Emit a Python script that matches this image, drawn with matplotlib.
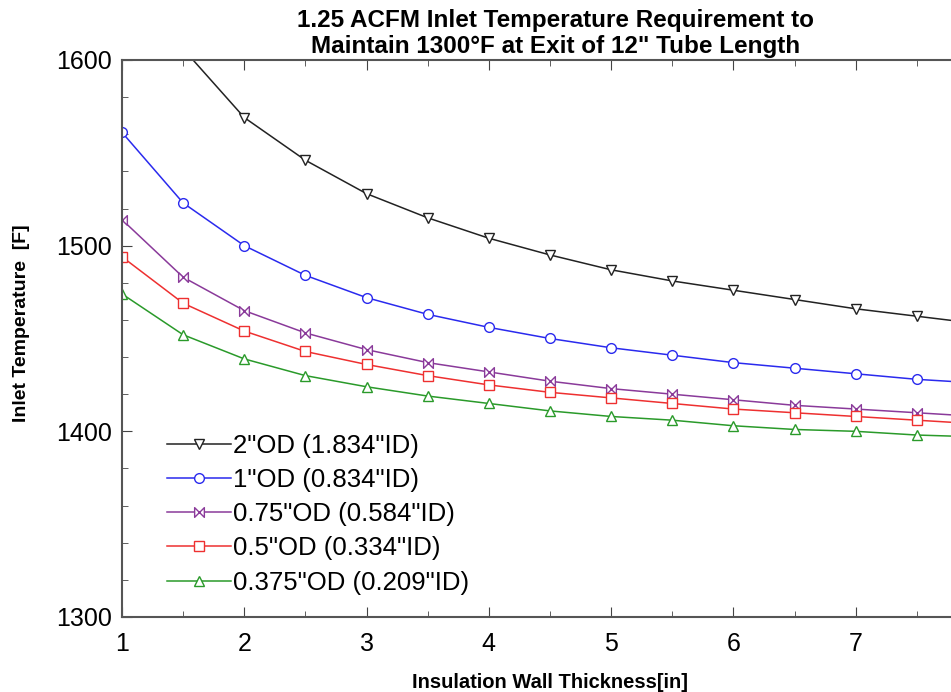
import numpy as np
import matplotlib
matplotlib.use('Agg')
import matplotlib.pyplot as plt
from matplotlib.path import Path
from matplotlib.ticker import MultipleLocator

plt.rcParams['font.family'] = ['Liberation Sans', 'DejaVu Sans']

thickness = [1, 1.5, 2, 2.5, 3, 3.5, 4, 4.5, 5, 5.5, 6, 6.5, 7, 7.5, 8]

od_2in = [1660, 1606, 1569, 1546, 1528, 1515, 1504, 1495, 1487, 1481, 1476, 1471, 1466, 1462, 1458]
od_1in = [1561, 1523, 1500, 1484, 1472, 1463, 1456, 1450, 1445, 1441, 1437, 1434, 1431, 1428, 1426]
od_075in = [1514, 1483, 1465, 1453, 1444, 1437, 1432, 1427, 1423, 1420, 1417, 1414, 1412, 1410, 1408]
od_05in = [1494, 1469, 1454, 1443, 1436, 1430, 1425, 1421, 1418, 1415, 1412, 1410, 1408, 1406, 1404]
od_0375in = [1474, 1452, 1439, 1430, 1424, 1419, 1415, 1411, 1408, 1406, 1403, 1401, 1400, 1398, 1397]

labels = ['2"OD (1.834"ID)', '1"OD (0.834"ID)', '0.75"OD (0.584"ID)',
          '0.5"OD (0.334"ID)', '0.375"OD (0.209"ID)']
xtick_vals = [1, 2, 3, 4, 5, 6, 7, 8]
xtick_text = ['1', '2', '3', '4', '5', '6', '7', '']   # 8 falls off the right edge

# bowtie marker for the 0.75" series
bowtie = Path([(-1, 1), (1, -1), (1, 1), (-1, -1), (-1, 1)],
              [Path.MOVETO, Path.LINETO, Path.LINETO, Path.LINETO, Path.CLOSEPOLY])

series = [
    (od_2in, '#222222', 'v', 7),
    (od_1in, '#2a2aee', 'o', 7),
    (od_075in, '#8a3a9a', bowtie, 7),
    (od_05in, '#ee3030', 's', 7),
    (od_0375in, '#2a9a2a', '^', 7),
]

fig = plt.figure(figsize=(9.51, 6.92), dpi=100)
ax = fig.add_axes([0.1283, 0.1084, 0.900, 0.8049])

for (vals, col, mk, ms), lab in zip(series, labels):
    ax.plot(thickness, vals, '-', color=col, lw=1.1, marker=mk, ms=ms,
            mfc='white', mec=col, mew=1.0, label=lab)

ax.set_xlim(1, 8)
ax.set_ylim(1300, 1600)
ax.set_xticks(xtick_vals, xtick_text)
ax.xaxis.set_minor_locator(MultipleLocator(0.5))
ax.yaxis.set_major_locator(MultipleLocator(100))
ax.yaxis.set_minor_locator(MultipleLocator(20))
ax.tick_params(which='both', direction='in', top=True, right=True, color='#444444')
ax.tick_params(which='major', length=7, labelsize=18)
ax.tick_params(axis='x', which='major', pad=11)
ax.tick_params(axis='y', which='major', pad=7)
ax.tick_params(which='minor', length=4)
for s in ax.spines.values():
    s.set_color('#555555')
    s.set_linewidth(1.5)

ax.set_xlabel('Insulation Wall Thickness[in]', fontsize=14.5, fontweight='bold', labelpad=12)
ax.set_ylabel('Inlet Temperature  [F]', fontsize=14, fontweight='bold')
ax.yaxis.set_label_coords(-0.108, 0.528)
fig.text(0.584, 0.952, '1.25 ACFM Inlet Temperature Requirement to\nMaintain 1300°F at Exit of 12" Tube Length',
         ha='center', va='center', fontsize=17.5, fontweight='bold', linespacing=1.15)

ax.legend(loc='lower left', bbox_to_anchor=(0.052, 0.04), frameon=False, fontsize=18.5,
          handlelength=2.5, handletextpad=0.1, labelspacing=0.4, borderaxespad=0,
          borderpad=0)

fig.savefig('out.png', dpi=100)
